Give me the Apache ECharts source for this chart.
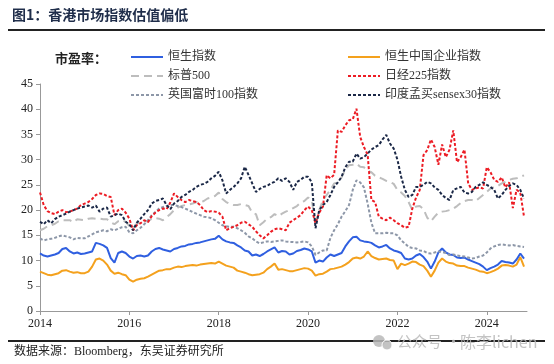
<!DOCTYPE html>
<html>
<head>
<meta charset="utf-8">
<script src="https://cdn.jsdelivr.net/npm/echarts@6/dist/echarts.min.js"></script>
<style>
html,body{margin:0;padding:0;background:#fff;}
#c{width:554px;height:364px;}
</style>
</head>
<body>
<div id="c"></div>
<script>
// ---- data (monthly, Jan 2014 – Nov 2024) ----
const startYear = 2014;
const monthCount = 131;
const xTickYears = [2014, 2016, 2018, 2020, 2022, 2024];
const yTicks = [0, 5, 10, 15, 20, 25, 30, 35, 40, 45];

const seriesNames = ['恒生指数', '恒生中国企业指数', '标普500', '日经225指数', '英国富时100指数', '印度孟买sensex30指数'];

const hsi = [
  11.4, 11.0, 10.8, 11.0, 11.2, 11.5, 12.3, 12.5, 11.8, 11.4, 11.6, 11.3,
  11.4, 11.6, 11.8, 13.5, 13.3, 13.0, 12.5, 10.5, 9.6, 11.5, 11.8, 11.5,
  10.8, 10.4, 10.9, 11.0, 10.8, 11.0, 11.8, 12.3, 12.5, 12.2, 12.0, 11.8,
  12.3, 12.5, 12.8, 12.9, 13.2, 13.3, 13.5, 13.6, 13.8, 14.0, 14.2, 14.3,
  14.9, 14.2, 13.8, 13.6, 13.5, 13.0, 12.6, 12.0, 11.8, 11.0, 11.2, 10.9,
  11.3, 11.8, 12.2, 12.6, 11.6, 11.9, 11.8, 11.2, 11.4, 11.9, 12.1, 12.4,
  12.2, 11.8, 9.6, 10.0, 9.8, 10.6, 11.2, 10.9, 11.2, 11.5, 12.8, 13.8,
  14.6, 14.7, 14.0, 13.8, 13.7, 13.5, 13.0, 12.6, 12.8, 13.1, 12.4, 12.0,
  11.8, 11.5, 10.4, 10.2, 10.4, 11.0, 11.3, 10.7, 9.8, 8.4, 9.8, 11.6,
  12.4, 11.6, 11.2, 11.1, 10.6, 10.5, 10.6, 10.2, 9.9, 9.6, 9.3, 8.8,
  8.1, 8.5, 8.8, 9.2, 9.9, 9.7, 9.6, 9.4, 10.2, 11.4, 10.4
];
const hscei = [
  7.8, 7.5, 7.2, 7.1, 7.3, 7.5, 8.0, 8.1, 7.8, 7.6, 7.7, 7.5,
  7.5, 7.8, 8.8, 10.2, 10.4, 10.0, 9.2, 8.0, 7.4, 7.6, 7.3, 7.1,
  6.2, 5.8, 6.2, 6.4, 6.5, 6.8, 7.2, 7.6, 8.0, 8.1, 8.3, 8.3,
  8.6, 8.8, 8.7, 8.9, 9.0, 9.1, 9.0, 9.2, 9.3, 9.4, 9.5, 9.4,
  9.8, 9.4, 9.0, 8.8, 8.6, 8.0, 7.8, 7.6, 7.3, 7.1, 7.2, 7.3,
  7.6, 8.3, 8.8, 9.4, 8.2, 8.3, 8.1, 7.9, 7.9, 8.1, 8.3, 8.5,
  8.4, 8.0, 7.0, 7.3, 7.4, 7.8, 8.3, 8.4, 8.6, 8.8, 9.2, 9.7,
  10.4, 10.6, 10.4, 10.8, 11.8, 10.9, 10.5, 10.2, 10.3, 10.4, 10.1, 10.0,
  8.3, 9.4, 9.1, 9.4, 9.8, 9.7, 9.2, 8.9, 8.0, 6.8, 8.0, 9.6,
  10.4, 9.8, 9.5, 9.4, 9.0, 8.9, 8.9, 8.6, 8.4, 8.2, 7.9, 7.8,
  7.5, 7.7, 8.0, 8.4, 9.0, 9.1, 9.0, 8.8, 9.2, 10.7, 8.8
];
const spx = [
  16.0, 16.3, 16.8, 17.0, 17.3, 17.8, 18.0, 18.0, 18.0, 17.6, 18.2, 18.1,
  18.0, 18.3, 18.4, 18.3, 18.3, 18.2, 18.2, 17.6, 17.2, 17.8, 18.0, 17.7,
  16.8, 16.4, 17.3, 17.6, 17.8, 17.8, 18.3, 18.4, 18.3, 18.0, 18.6, 19.2,
  20.0, 20.5, 20.8, 21.0, 21.1, 21.3, 21.6, 21.5, 21.8, 22.3, 22.5, 22.8,
  23.5, 22.2, 21.6, 21.2, 21.0, 21.0, 21.2, 21.0, 20.8, 19.5, 19.2, 17.0,
  17.6, 18.3, 18.6, 19.2, 18.8, 19.3, 19.7, 20.0, 20.4, 20.8, 21.5, 21.8,
  22.5, 22.0, 17.0, 20.0, 22.0, 23.0, 24.0, 25.3, 25.5, 26.5, 28.0, 28.9,
  29.0, 29.2, 28.6, 28.5, 27.8, 27.5, 26.8, 26.5, 26.2, 25.8, 25.6, 25.2,
  24.0, 23.5, 22.8, 21.6, 20.0, 20.7, 20.8, 20.2, 18.5, 17.8, 18.7, 19.5,
  19.7, 19.8, 20.0, 20.3, 20.8, 21.4, 21.8, 22.0, 22.0, 21.8, 22.4, 23.0,
  23.6, 24.3, 24.6, 24.8, 25.3, 25.6, 26.0, 26.2, 26.3, 26.6, 26.9
];
const nikkei = [
  23.5, 21.0, 19.8, 19.4, 19.2, 19.7, 20.0, 19.6, 19.7, 20.0, 20.3, 21.0,
  21.3, 21.6, 22.2, 23.0, 23.3, 23.2, 22.8, 22.6, 19.0, 20.0, 20.3, 19.5,
  18.3, 16.0, 17.0, 17.4, 18.0, 17.6, 18.8, 19.5, 20.0, 20.3, 20.2, 21.5,
  23.3, 22.6, 22.0, 21.6, 22.0, 21.8, 21.6, 21.0, 20.0, 19.6, 19.8, 19.7,
  19.5, 18.7, 16.0, 16.4, 16.7, 17.0, 17.5, 17.7, 17.2, 16.7, 15.8, 15.0,
  14.4, 15.0, 15.7, 16.2, 16.4, 16.2, 16.0, 17.5, 18.0, 18.5, 19.0, 20.0,
  20.7, 20.0, 17.4, 19.5, 20.7, 26.9, 26.3, 27.0, 35.8, 35.5, 36.8, 37.8,
  38.0, 40.1, 34.5, 32.5, 31.0, 22.0, 21.6, 18.7, 18.3, 18.0, 18.5, 18.0,
  17.4, 17.0, 16.5, 16.7, 20.3, 22.5, 24.0, 30.9, 31.9, 34.0, 32.5, 29.0,
  33.0, 30.5, 32.0, 35.8, 29.5, 30.5, 32.0, 25.3, 24.0, 24.3, 24.5, 24.3,
  28.5, 27.5, 26.0, 25.6, 26.5, 24.5, 25.5, 20.4, 24.0, 23.5, 18.7
];
const ftse = [
  14.4, 14.0, 14.2, 14.3, 14.5, 14.8, 15.0, 14.8, 14.6, 14.2, 14.5, 14.4,
  14.4, 14.8, 15.2, 15.6, 15.8, 16.0, 15.8, 16.2, 16.0, 16.3, 16.6, 16.7,
  15.6, 15.4, 16.0, 16.5, 17.2, 18.0, 19.0, 19.6, 20.3, 20.6, 20.8, 21.0,
  21.0, 20.8, 20.6, 20.3, 20.0, 19.6, 19.3, 19.0, 18.7, 18.6, 18.4, 18.0,
  17.5, 17.0, 16.8, 16.7, 16.7, 16.4, 16.0, 15.5, 14.8, 14.4, 13.8, 13.4,
  13.6, 13.8, 13.7, 13.8, 13.9, 14.0, 13.8, 13.7, 13.7, 13.6, 13.7, 13.8,
  13.6, 12.8, 11.1, 11.6, 12.0, 12.0, 14.5, 16.0, 17.2, 18.7, 19.8, 21.0,
  24.0, 25.9, 25.5, 24.5, 21.3, 17.5, 15.4, 15.4, 15.4, 15.5, 15.4, 15.4,
  15.0, 14.0, 13.4, 12.7, 12.5, 12.4, 12.0, 11.9, 11.5, 11.4, 11.6, 11.8,
  11.7, 11.5, 11.1, 11.2, 11.0, 10.9, 10.8, 10.6, 10.4, 10.5, 10.8, 11.0,
  11.6, 12.4, 12.8, 13.1, 13.2, 13.1, 13.0, 13.1, 12.9, 12.8, 12.7
];
const sensex = [
  17.7, 17.2, 18.0, 17.4, 18.2, 18.7, 19.0, 19.3, 19.7, 20.0, 20.3, 20.5,
  20.7, 20.9, 20.5, 20.9, 19.7, 20.3, 20.5, 18.7, 19.0, 19.3, 19.0, 17.7,
  17.2, 16.0, 17.5, 18.3, 19.2, 20.0, 21.3, 21.8, 22.0, 22.3, 21.0, 20.2,
  21.3, 21.8, 22.6, 23.0, 23.6, 24.0, 24.6, 25.0, 25.2, 25.6, 26.3, 26.8,
  27.6, 25.9, 23.3, 24.0, 24.6, 25.3, 26.3, 28.6, 27.0, 25.3, 23.6, 24.2,
  24.6, 24.8, 25.3, 25.6, 26.3, 25.8, 26.3, 25.6, 24.0, 25.6, 26.0, 26.6,
  26.6, 25.5, 16.4, 20.0, 21.0, 21.6, 23.0, 24.6, 25.5, 26.6, 28.5, 29.6,
  29.6, 31.2, 30.2, 30.5, 31.2, 32.0, 32.5, 32.9, 34.0, 34.9, 33.2, 32.2,
  30.0, 26.6, 24.0, 22.6, 23.0, 24.6, 24.6, 25.0, 25.6, 25.3, 24.5, 24.0,
  23.0, 22.4, 22.0, 24.0, 24.3, 24.6, 23.5, 23.3, 23.6, 24.6, 25.0, 25.5,
  25.0, 24.6, 24.0, 22.3, 23.0, 24.0, 24.8, 25.3, 25.0, 24.0, 22.3
];

// ---- build chart ----
const xs = [];
for (let i = 0; i < monthCount; i++) xs.push(startYear + i / 12);
const pair = arr => arr.map((v, i) => [xs[i], v]);

const serifFont = '"Liberation Serif","Times New Roman","Noto Sans CJK SC",serif';
const cjkFont = '"Noto Sans CJK SC","Liberation Serif",sans-serif';

function mk(name, data, color, type, width, z) {
  return {
    name: name, type: 'line', data: pair(data), symbol: 'none', z: z,
    lineStyle: { color: color, width: width, type: type },
    itemStyle: { color: color },
    emphasis: { disabled: true }, animation: false
  };
}

const chart = echarts.init(document.getElementById('c'), null, { renderer: 'canvas' });
const legendCommon = {
  orient: 'vertical', top: 45, itemWidth: 32, itemHeight: 14, itemGap: 5,
  textStyle: { fontFamily: serifFont, fontSize: 12, color: '#333', lineHeight: 14 },
  itemStyle: { color: 'rgba(0,0,0,0)', borderColor: 'rgba(0,0,0,0)', borderWidth: 0, opacity: 0 },
  selectedMode: false
};
chart.setOption({
  animation: false,
  backgroundColor: '#fff',
  grid: { left: 40, right: 27, top: 84, bottom: 53 },
  legend: [
    Object.assign({}, legendCommon, { left: 125, data: [seriesNames[0], seriesNames[2], seriesNames[4]] }),
    Object.assign({}, legendCommon, { left: 342, data: [seriesNames[1], seriesNames[3], seriesNames[5]] })
  ],
  xAxis: {
    type: 'value', min: 2014, max: 2024.9,
    axisLine: { lineStyle: { color: '#999', width: 1 } },
    axisTick: { show: true, customValues: xTickYears, length: 4, lineStyle: { color: '#999' } },
    axisLabel: { customValues: xTickYears, fontFamily: serifFont, fontSize: 12, color: '#222', margin: 7, formatter: v => String(Math.round(v)) },
    splitLine: { show: false }
  },
  yAxis: {
    type: 'value', min: 0, max: 45, interval: 5,
    axisLine: { show: true, lineStyle: { color: '#999', width: 1 } },
    axisTick: { show: true, length: 4, lineStyle: { color: '#999' } },
    axisLabel: { fontFamily: serifFont, fontSize: 12, color: '#222', margin: 7 },
    splitLine: { show: false }
  },
  series: [
    mk(seriesNames[1], hscei, '#f4a11d', 'solid', 2, 2),
    mk(seriesNames[0], hsi, '#2f5fe0', 'solid', 2, 3),
    mk(seriesNames[2], spx, '#bdbdbd', [8, 5], 2, 4),
    mk(seriesNames[4], ftse, '#8d97a8', [3, 2], 2, 5),
    mk(seriesNames[3], nikkei, '#ec1c24', [3, 2], 2, 6),
    mk(seriesNames[5], sensex, '#1b2847', [3, 2], 2, 7)
  ],
  graphic: [
    { type: 'text', left: 12, top: 8, style: { text: '图1：香港市场指数估值偏低', font: 'bold 14px ' + cjkFont, fill: '#1f2d4a' } },
    { type: 'line', shape: { x1: 8, y1: 30, x2: 545, y2: 30 }, style: { stroke: '#222', lineWidth: 2 } },
    { type: 'text', left: 55, top: 52, style: { text: '市盈率：', font: 'bold 13px ' + cjkFont, fill: '#222' } },
    { type: 'line', shape: { x1: 8, y1: 341, x2: 545, y2: 341 }, style: { stroke: '#222', lineWidth: 2 } },
    { type: 'text', left: 14, top: 346, style: { text: '数据来源：Bloomberg，东吴证券研究所', font: '12px ' + serifFont, fill: '#222' } },
    { type: 'circle', shape: { cx: 379, cy: 341, r: 6 }, style: { fill: 'rgba(185,185,185,0.85)' } },
    { type: 'circle', shape: { cx: 387, cy: 345, r: 5 }, style: { fill: 'rgba(185,185,185,0.85)', stroke: '#fff', lineWidth: 1 } },
    { type: 'text', left: 397, top: 334, style: { text: '公众号', font: '15px ' + cjkFont, fill: 'rgba(185,185,185,0.85)' } },
    { type: 'text', left: 446, top: 334, style: { text: '·', font: '15px ' + cjkFont, fill: 'rgba(185,185,185,0.85)' } },
    { type: 'text', left: 460, top: 334, style: { text: '陈李lichen', font: '16px ' + cjkFont, fill: 'rgba(185,185,185,0.85)' } }
  ]
});
</script>
</body>
</html>
